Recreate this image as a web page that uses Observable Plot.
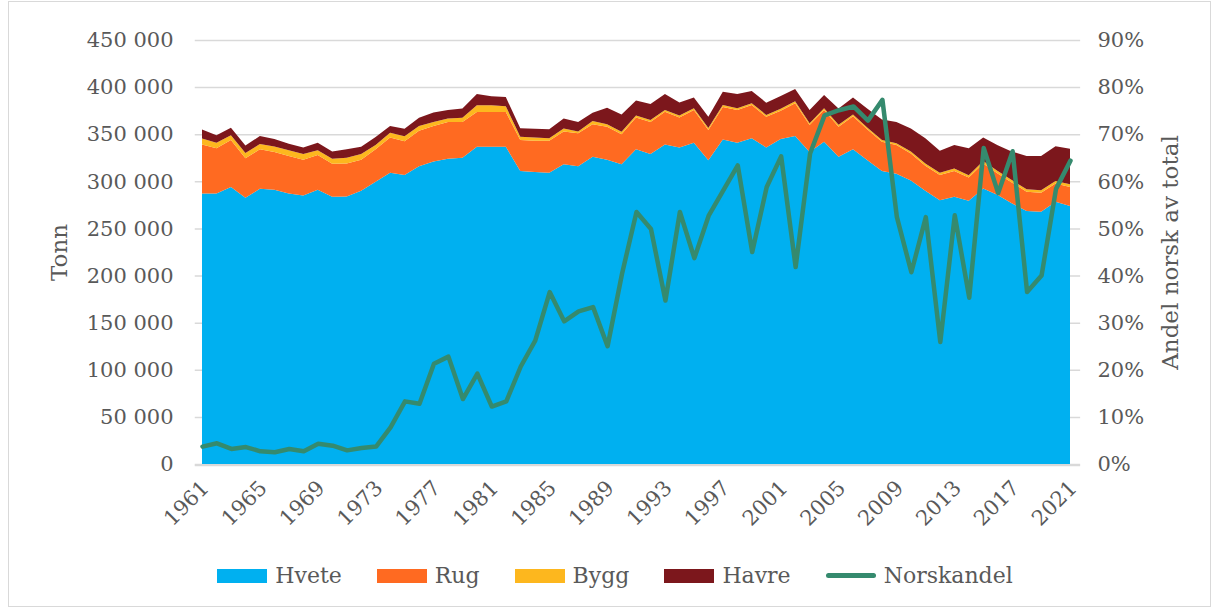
<!DOCTYPE html>
<html><head><meta charset="utf-8">
<script src="https://cdn.jsdelivr.net/npm/d3@7"></script>
<script src="https://cdn.jsdelivr.net/npm/@observablehq/plot@0.6"></script>
<style>
body{margin:0;background:#fff;}
#wrap{position:relative;width:1214px;height:610px;font-family:"DejaVu Serif",serif;color:#595959;}
#frame{position:absolute;left:8px;top:1px;width:1203px;height:606px;border:1px solid #d9d9d9;box-sizing:border-box;}
#chart{position:absolute;left:0;top:0;}
#legend{position:absolute;top:563px;left:0;width:1230px;display:flex;justify-content:center;align-items:center;gap:35px;font-size:22px;}
.item{display:flex;align-items:center;gap:8px;}
.sw{width:50px;height:14px;}
.ln{width:50px;height:5px;border-radius:3px;}
</style></head>
<body><div id="wrap"><div id="frame"></div><div id="chart"></div><div id="legend"></div></div>
<script>
const years = d3.range(1961, 2022);
const series = ["Hvete", "Rug", "Bygg", "Havre"];
const colors = ["#00B0F0", "#FF6A21", "#FDB71E", "#7C171C"];
const lineName = "Norskandel";
const lineColor = "#358A6E";
// thousand tonnes
const hvete = [287,287,294,282.5,292,291,287,285,291,283.6,
 284,290,299.5,309,306.6,316,321,324,325,336.7,
 336.7,336.7,311,310,309,318,316,326,323,318,
 334,329,339,336,341,322.5,344.5,341,345.6,336,
 345,348,331,342,326,334,322.5,311,308,301,
 290,280,283.6,279.4,292.5,285.4,276.6,268.4,267.7,278.3,273.7];
const rug = [52,48,50,42,42,40,40,38,37,35,
 35,33,34.5,37.6,36,37.6,37.6,39,38,37,
 37,37,32.8,33,34,35,35,34.7,35,32,
 33.8,34,34.8,31.8,34.6,32,34.5,34.6,35.4,32.5,
 30,35,28.7,33.6,32,35,32.5,31,30.5,28.6,
 26.5,26.6,27.4,24.6,26.5,23,22,20.6,20.3,19.5,20.3];
const bygg = [6.5,6,5,5.6,5.5,6,6,6,5,5.4,
 6,6,4.5,5,5.3,5,4.5,3.8,4.4,7,
 7,6,3.5,3.5,2.6,3,2,3.3,2.7,2.5,
 2,2,2,2,2,2,2,2,2,2,
 2,2,2,2,2,2,2,2,2,2,
 2.3,2.5,2.5,2.5,2.5,2.5,2.5,2.5,2.5,2.5,3];
const havre = [9.5,8,8,8,8.5,8,7,7,8,7.6,
 9,7.7,8.5,7,8,9,10,9,10,12,
 9.5,9.7,9,9.4,9.8,10.8,10,8.7,17.3,18.5,
 16,17,17,14,11.4,12,14,15,13,13,
 13.5,13,14,14,17.4,18,20,21.7,22.5,24.5,
 27,23.4,25,28.5,25,27.5,30.4,35.5,36.5,37,37.5];
// percent
const norskandel = [3.8,4.5,3.3,3.7,2.8,2.6,3.3,2.8,4.4,4.0,
 3.0,3.5,3.8,7.9,13.4,12.9,21.4,22.9,13.9,19.3,
 12.3,13.4,20.8,26.3,36.6,30.4,32.5,33.4,25.1,40.5,
 53.6,50.0,34.8,53.6,43.8,52.9,58.2,63.5,45.1,58.9,
 65.4,41.9,66.0,74.1,75.2,76.0,73.0,77.4,52.5,40.8,
 52.5,26.0,52.9,35.4,67.2,57.6,66.5,36.6,40.1,58.5,64.5];
const yearTicks = d3.range(1961, 2022, 4);
const leftTicks = d3.range(0, 450001, 50000);
const pctMax = 90; // right axis max percent
const yMax = 450000;

const values = [hvete, rug, bygg, havre];
const rows = [];
series.forEach((s, i) => years.forEach((yr, j) => rows.push({year: yr, series: s, value: values[i][j] * 1000})));
const lineRows = years.map((yr, j) => ({year: yr, pct: norskandel[j]}));
const toY = p => p * yMax / pctMax;

const plot = Plot.plot({
  width: 1214, height: 540,
  marginLeft: 202, marginRight: 144, marginTop: 40, marginBottom: 76,
  style: {fontFamily: "DejaVu Serif, serif", fontSize: "21px", color: "#595959", background: "transparent"},
  x: {domain: [1961, 2021], axis: null},
  y: {domain: [0, yMax], axis: null},
  color: {domain: series, range: colors},
  marks: [
    Plot.ruleY(leftTicks, {x1: 1960.5, x2: 2021.7, stroke: "#d9d9d9", strokeWidth: 1.5}),
    Plot.areaY(rows, {x: "year", y: "value", z: "series", fill: "series", order: series}),
    Plot.ruleY([0], {x1: 1960.5, x2: 2021.7, stroke: "#d9d9d9", strokeWidth: 1.5, dy: 1}),
    Plot.lineY(lineRows, {x: "year", y: d => toY(d.pct), stroke: lineColor, strokeWidth: 4.5, strokeLinejoin: "round", strokeLinecap: "round"}),
    Plot.axisY(leftTicks, {anchor: "left", tickSize: 0, tickPadding: 29, label: null,
      tickFormat: d => d3.format(",")(d).replace(/,/g, " ")}),
    Plot.axisY(leftTicks, {anchor: "right", tickSize: 0, tickPadding: 27, label: null,
      tickFormat: d => Math.round(d * pctMax / yMax) + "%"}),
    Plot.axisX(yearTicks, {anchor: "bottom", tickSize: 0, tickPadding: 20, tickRotate: -45, label: null,
      tickFormat: d => String(d), dx: 3}),
    Plot.text(["Tonn"], {frameAnchor: "left", dx: -143, rotate: -90, fontSize: 23, textAnchor: "middle"}),
    Plot.text(["Andel norsk av total"], {frameAnchor: "right", dx: 100, rotate: -90, fontSize: 23, textAnchor: "middle"})
  ]
});
document.getElementById("chart").appendChild(plot);

const legend = document.getElementById("legend");
series.forEach((s, i) => {
  const it = document.createElement("div"); it.className = "item";
  it.innerHTML = `<div class="sw" style="background:${colors[i]}"></div><span>${s}</span>`;
  legend.appendChild(it);
});
const li = document.createElement("div"); li.className = "item";
li.innerHTML = `<div class="ln" style="background:${lineColor}"></div><span>${lineName}</span>`;
legend.appendChild(li);
</script></body></html>
